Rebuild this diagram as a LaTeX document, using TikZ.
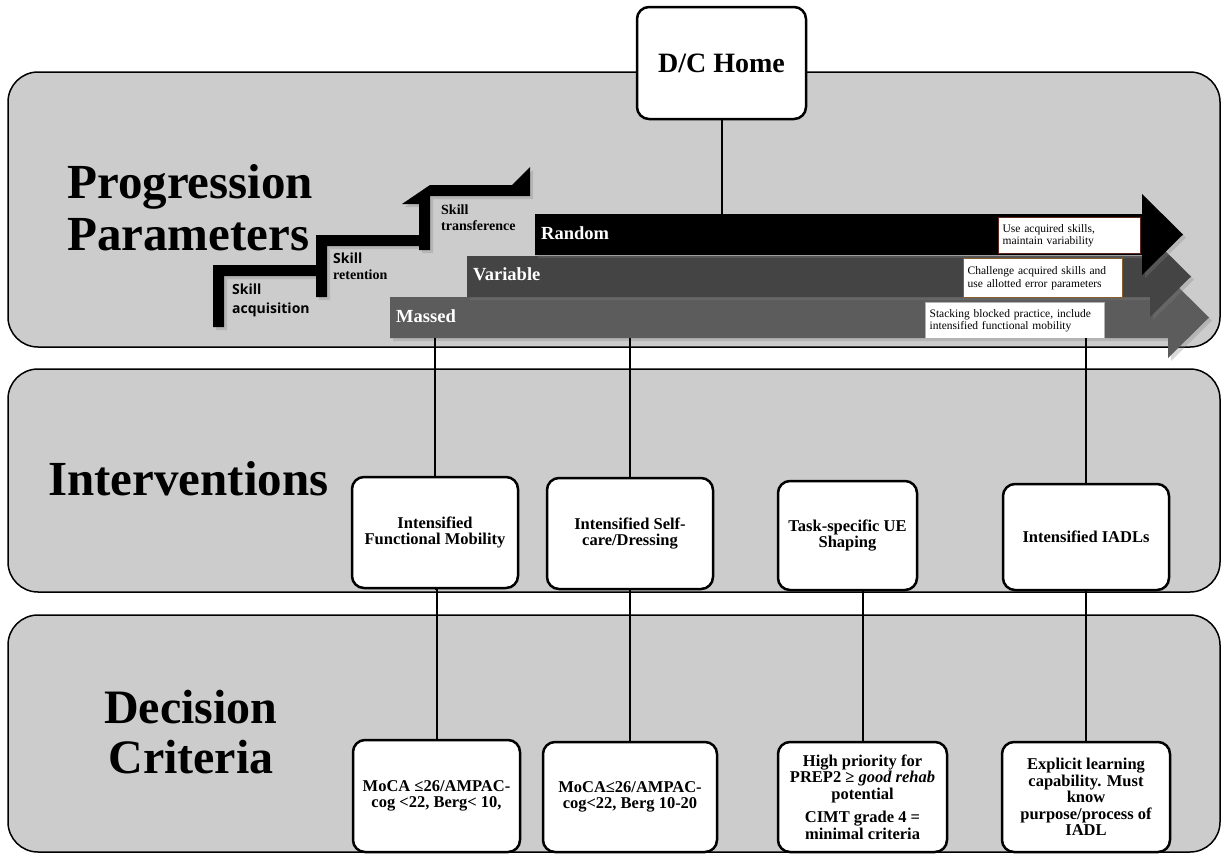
\documentclass[tikz,border=0pt]{standalone}
\usepackage{fontspec}
\setmainfont{Liberation Serif}
\setsansfont{Open Sans}
\usetikzlibrary{positioning, shadows}

\definecolor{panelgray}{RGB}{204,204,204}
\definecolor{variablegray}{RGB}{68,68,68}
\definecolor{massedgray}{RGB}{92,92,92}
\definecolor{notebrown}{RGB}{95,40,30}
\definecolor{notegold}{RGB}{135,95,45}

\tikzset{
    panel/.style={draw=black, line width=1.5pt, fill=panelgray, rounded corners=30pt},
    whitebox/.style={draw=black, line width=2.5pt, fill=white, rounded corners=12pt,
        align=center, inner sep=2pt, font=\fontsize{16.5}{16.5}\selectfont\bfseries},
    link/.style={draw=black, line width=2pt},
    barbody/.style={anchor=north west, inner sep=0pt},
    barlabel/.style={text=white, inner sep=0pt, font=\fontsize{18.5}{20}\selectfont\bfseries},
    notebox/.style={anchor=north west, fill=white, line width=1.2pt, align=left,
        inner sep=4pt, font=\fontsize{11.5}{12.5}\selectfont},
    heading/.style={inner sep=0pt, font=\fontsize{49}{52}\selectfont\bfseries},
    skill/.style={anchor=north west, align=left, inner sep=0pt, font=\fontsize{14}{15.5}\selectfont\bfseries},
    shade/.style={drop shadow={opacity=0.3, shadow xshift=3pt, shadow yshift=-3pt}},
}

\begin{document}
\begin{tikzpicture}[x=1pt, y=-1pt]
        \useasboundingbox (0,0) rectangle (1221,854);

        % the three bands
        \draw[panel] (8,72) rectangle (1220,347);
        \draw[panel] (8,369) rectangle (1220,592);
        \draw[panel] (8,615) rectangle (1220,852);

        \node[heading, anchor=base west, align=left] (progression) at (67,250) {Progression\\Parameters};
        \node[heading, anchor=base west] (interventions) at (48,495) {Interventions};
        \node[heading, anchor=base, align=center, font=\fontsize{48}{50}\selectfont\bfseries] (decision) at (191,773) {Decision\\Criteria};

        % stairs
        \fill[black, shade] (213,327) -- (213,265) -- (316,265) -- (316,235) -- (419,235)
            -- (419,204) -- (402,204) -- (430,185) -- (512,185) -- (530,167) -- (530,196)
            -- (430,196) -- (430,250) -- (419,250) -- (419,246) -- (327,246) -- (327,297)
            -- (316,297) -- (316,276) -- (224,276) -- (224,327) -- cycle;

        \node[skill, font=\fontsize{14}{19}\selectfont\sffamily\bfseries] (acquisition) at (232,284) {Skill\\acquisition};
        \node[skill] (retention) at (333,253) {{\sffamily Skill}\\retention};
        \node[skill] (transference) at (441,205) {Skill\\transference};

        % practice arrows
        \foreach \nm/\lx/\ty/\hx/\col/\txt in {
                massed/390/297/1168/massedgray/Massed,
                variable/467/256/1150/variablegray/Variable,
                random/535/214/1142/black/Random}{
                \pgfmathsetmacro\bw{\hx-\lx}
                \fill[\col, shade] (\lx,\ty) -- (\hx,\ty) -- (\hx,\ty-20) -- (\hx+41,\ty+20.5)
                    -- (\hx,\ty+61) -- (\hx,\ty+41) -- (\lx,\ty+41) -- cycle;
                \node[barbody, minimum width=\bw pt, minimum height=41pt] (\nm) at (\lx,\ty) {};
                \node[barlabel, right=6pt of \nm.west, yshift=2pt] (\nm-label) {\txt};
            }

        \node[notebox, draw=notebrown, minimum width=142pt, minimum height=36pt, text width=134pt]
            (randomnote) at (998,217) {Use acquired skills,\\maintain variability};
        \node[notebox, draw=notegold, minimum width=159pt, minimum height=39pt, text width=151pt]
            (variablenote) at (963,258) {Challenge acquired skills and\\use allotted error parameters};
        \node[notebox, draw=gray!60, minimum width=179pt, minimum height=36pt, text width=171pt]
            (massednote) at (925,302) {Stacking blocked practice, include\\intensified functional mobility};

        % boxes
        \node[whitebox, font=\fontsize{28}{30}\selectfont\bfseries, minimum width=169pt, minimum height=112pt]
            (home) at (721.5,63) {D/C Home};

        \node[whitebox, minimum width=166pt, minimum height=111pt] (ib1) at (435,532.5) {Intensified\\Functional Mobility};
        \node[whitebox, minimum width=166pt, minimum height=111pt] (ib2) at (630,533.5) {Intensified Self-\\care/Dressing};
        \node[whitebox, minimum width=139pt, minimum height=109pt] (ib3) at (847.5,535.5) {Task-specific UE\\Shaping};
        \node[whitebox, minimum width=166pt, minimum height=106pt] (ib4) at (1086,537) {Intensified IADLs};

        \node[whitebox, minimum width=167pt, minimum height=112pt] (cb1) at (436.5,796) {MoCA ≤26/AMPAC-\\cog <22, Berg< 10,};
        \node[whitebox, minimum width=174pt, minimum height=110pt] (cb2) at (630,797) {MoCA≤26/AMPAC-\\cog<22, Berg 10-20};
        \node[whitebox, minimum width=169pt, minimum height=110pt] (cb3) at (862.5,797)
            {High priority for\\PREP2 ≥ \textit{good rehab}\\potential\\[7pt]CIMT grade 4 =\\minimal criteria};
        \node[whitebox, minimum width=168pt, minimum height=110pt] (cb4) at (1086,797)
            {Explicit learning\\capability. Must\\know\\purpose/process of\\IADL};

        % connectors
        \draw[link] (home.south) -- (home.south |- random.north);
        \foreach \b in {1,2,4}{
                \draw[link] (ib\b.north |- massed.south) -- (ib\b.north);
                \draw[link] (ib\b.south) -- (ib\b.south -| cb\b.north) -- (cb\b.north);
            }
        \draw[link] (cb3.north |- ib3.south) -- (cb3.north);

    \end{tikzpicture}
\end{document}
